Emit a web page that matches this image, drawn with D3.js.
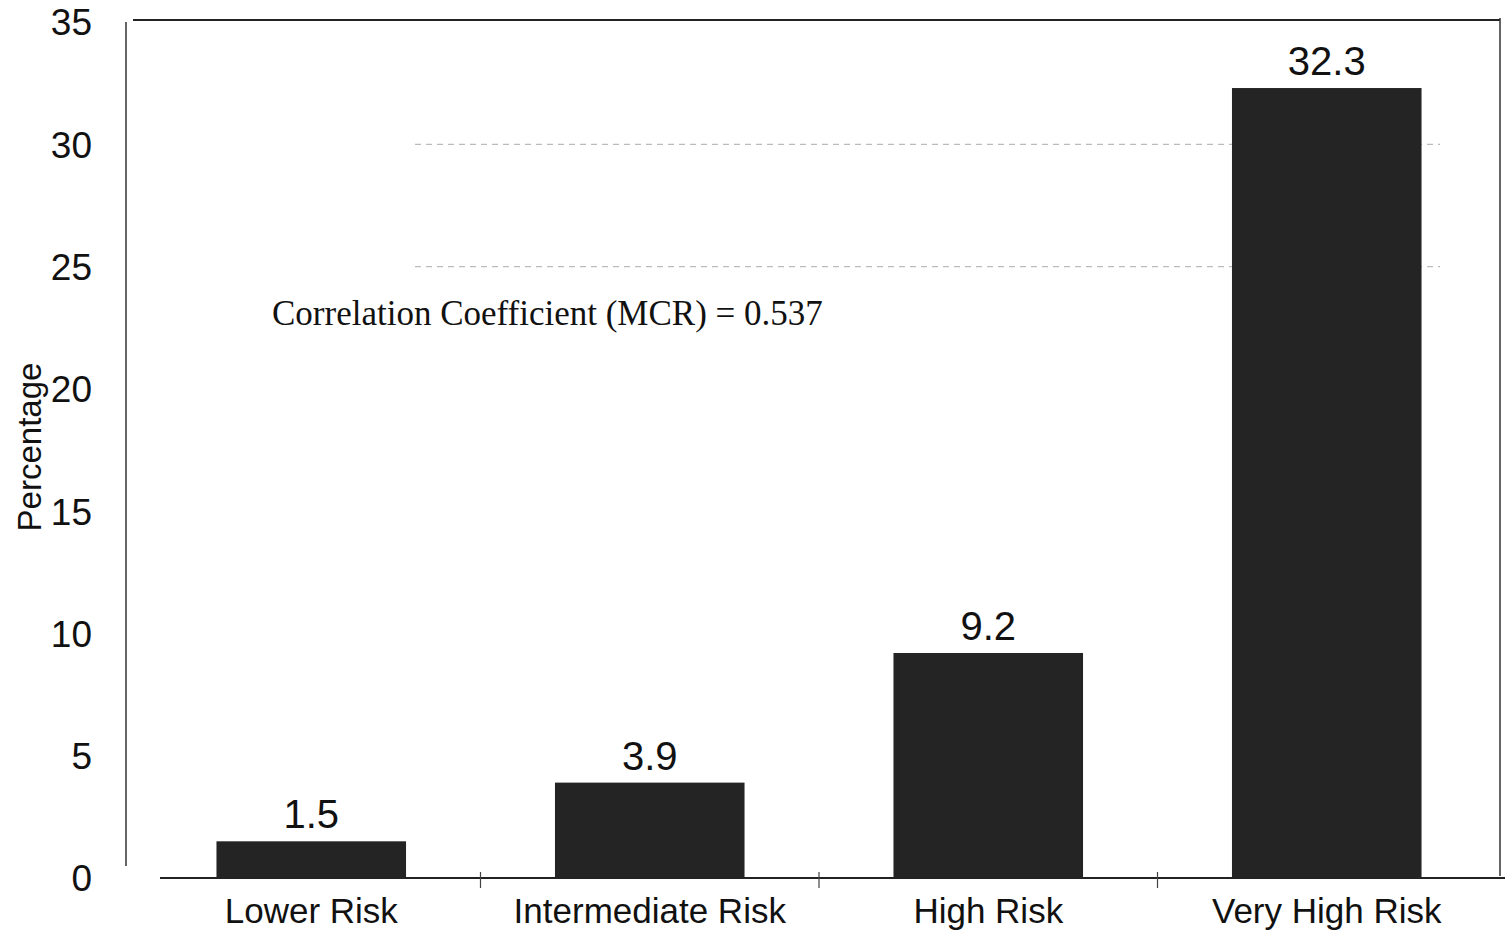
<!DOCTYPE html>
<html><head><meta charset="utf-8">
<script src="https://cdn.jsdelivr.net/npm/d3@7"></script>
<style>body{margin:0;background:#fff}svg{display:block}</style>
</head><body>
<svg id="chart" width="1505" height="934"></svg>
<script>
const categories = ["Lower Risk", "Intermediate Risk", "High Risk", "Very High Risk"];
const values = [1.5, 3.9, 9.2, 32.3];
const yTicks = [0, 5, 10, 15, 20, 25, 30, 35];
const gridValues = [25, 30];
const annotation = "Correlation Coefficient (MCR) = 0.537";
const yLabel = "Percentage";

const svg = d3.select("#chart");
const y = d3.scaleLinear().domain([0, 35]).range([878, 22]);
const x = d3.scaleBand().domain(categories).range([142, 1496]).paddingInner(0.44).paddingOuter(0.22);

// gridlines
svg.append("g").selectAll("line").data(gridValues).join("line")
  .attr("x1", 415).attr("x2", 1440)
  .attr("y1", d => y(d)).attr("y2", d => y(d))
  .attr("stroke", "#bbb").attr("stroke-width", 1.2).attr("stroke-dasharray", "6,5");

// frame: top and right
svg.append("line").attr("x1", 133).attr("x2", 1500).attr("y1", 20).attr("y2", 20)
  .attr("stroke", "#222").attr("stroke-width", 2);
svg.append("line").attr("x1", 1500).attr("x2", 1500).attr("y1", 18).attr("y2", 876)
  .attr("stroke", "#333").attr("stroke-width", 1.5);

// y axis
const yAxis = d3.axisLeft(y).tickValues(yTicks).tickSize(0).tickPadding(0);
const gy = svg.append("g").attr("transform", "translate(126,0)").call(yAxis);
gy.select(".domain").attr("stroke", "#333").attr("stroke-width", 1.5).attr("d", "M0," + y(35) + "V" + (y(0) - 12));
gy.selectAll(".tick text").attr("x", -34).attr("font-family", "Arial, 'Liberation Sans', sans-serif")
  .attr("font-size", 37).attr("fill", "#111").attr("dy", "0.35em");

// x axis
const xAxis = d3.axisBottom(x).tickSize(0).tickPadding(0);
const gx = svg.append("g").attr("transform", "translate(0,878)").call(xAxis);
gx.select(".domain").attr("stroke", "#222").attr("stroke-width", 2).attr("d", "M160,0H1505");
gx.selectAll(".tick text").attr("y", 45).attr("dy", 0)
  .attr("font-family", "Arial, 'Liberation Sans', sans-serif").attr("font-size", 35).attr("fill", "#111");
// boundary tick marks
const bounds = categories.slice(1).map(c => x(c) - x.step() * x.paddingInner() / 2);
svg.append("g").selectAll("line").data(bounds).join("line")
  .attr("x1", d => d).attr("x2", d => d).attr("y1", 872).attr("y2", 888)
  .attr("stroke", "#444").attr("stroke-width", 1.2);

// bars
svg.append("g").selectAll("rect").data(values).join("rect")
  .attr("x", (d, i) => x(categories[i])).attr("width", x.bandwidth())
  .attr("y", d => y(d)).attr("height", d => y(0) - y(d))
  .attr("fill", "#242424");

// value labels
svg.append("g").selectAll("text").data(values).join("text")
  .attr("x", (d, i) => x(categories[i]) + x.bandwidth() / 2)
  .attr("y", d => y(d) - 13)
  .attr("text-anchor", "middle")
  .attr("font-family", "Arial, 'Liberation Sans', sans-serif").attr("font-size", 40).attr("fill", "#111")
  .text(d => d.toFixed(1));

// annotation
svg.append("text").attr("x", 272).attr("y", 325)
  .attr("font-family", "'Liberation Serif', 'Times New Roman', serif").attr("font-size", 35).attr("fill", "#111")
  .text(annotation);

// y label
svg.append("text").attr("transform", "translate(41,447) rotate(-90)")
  .attr("text-anchor", "middle")
  .attr("font-family", "Arial, 'Liberation Sans', sans-serif").attr("font-size", 33).attr("fill", "#111")
  .text(yLabel);
</script>
</body></html>
